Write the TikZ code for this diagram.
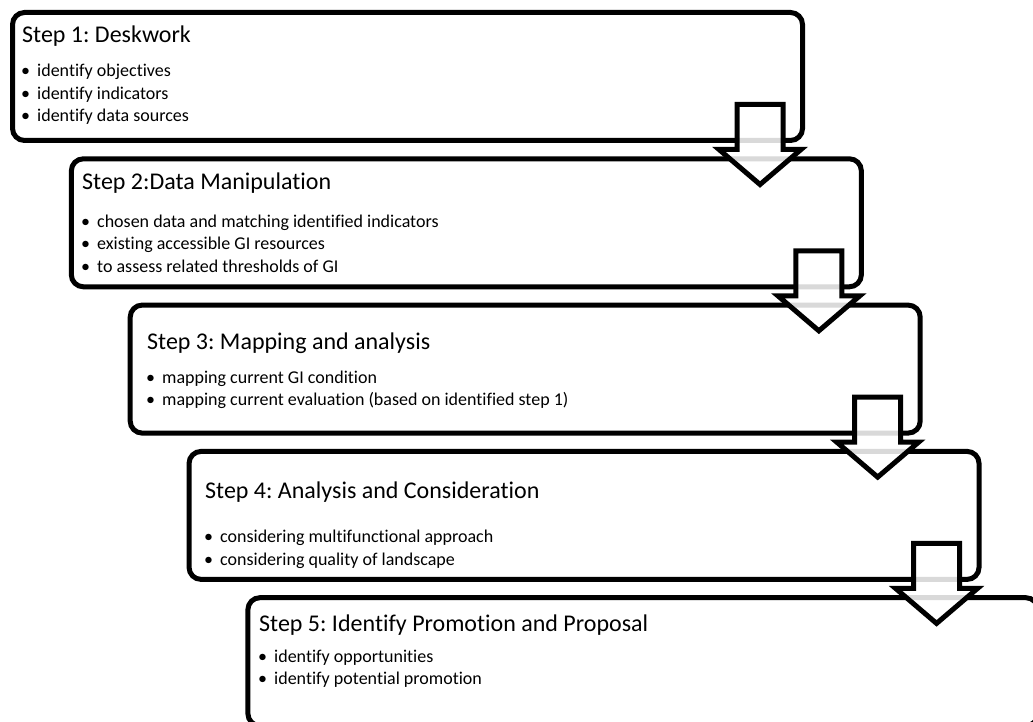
\documentclass[tikz,border=0pt]{standalone}
\usepackage{fontspec}
\setmainfont{Carlito}[Ligatures={NoCommon}]
\frenchspacing
\tikzset{
 stepbox/.style={draw=black, line width=5pt, rounded corners=12pt, minimum width=790pt, minimum height=128pt, anchor=north west, inner sep=0pt, outer sep=0pt},
 titletext/.style={anchor=base west, inner sep=0pt, font=\fontsize{24}{29}\selectfont},
 itemtext/.style={anchor=base west, inner sep=0pt, font=\fontsize{18}{22}\selectfont},
 blockarrow/.style={draw=black, line width=5pt, line join=miter, fill=white, fill opacity=0.85}
}
\newcommand{\stepdown}[1]{%
 \begin{scope}[shift={(#1.south east)}]
  \draw[blockarrow] (-65.5,-36) -- (-19.5,-36) -- (-19.5,9) -- (-1.5,9) -- (-42.5,44) -- (-83.5,9) -- (-65.5,9) -- cycle;
 \end{scope}}
\newcommand{\bul}[1]{\makebox[16pt][l]{•}#1}
\begin{document}
\begin{tikzpicture}[x=1pt,y=-1pt]
\useasboundingbox (0,0) rectangle (1033,722);
\clip (0,0) rectangle (1033,722);
% boxes
\node[stepbox] (b1) at (12.5,12.5) {};
\node[stepbox] (b2) at (71.35,158.8) {};
\node[stepbox] (b3) at (130.2,305.1) {};
\node[stepbox] (b4) at (189.05,451.4) {};
\node[stepbox] (b5) at (247.9,597.7) {};
% texts box 1
\node[titletext] (t1) at (22,43) {Step 1: Deskwork};
\node[itemtext] (t1a) at (21,77) {\bul{identify objectives}};
\node[itemtext] (t1b) at (21,99.5) {\bul{identify indicators}};
\node[itemtext] (t1c) at (21,122) {\bul{identify data sources}};
% box 2
\node[titletext] (t2) at (82,190) {Step 2:Data Manipulation};
\node[itemtext] (t2a) at (81,227) {\bul{chosen data and matching identified indicators}};
\node[itemtext] (t2b) at (81,249.5) {\bul{existing accessible GI resources}};
\node[itemtext] (t2c) at (81,272) {\bul{to assess related thresholds of GI}};
% box 3
\node[titletext] (t3) at (147,349) {Step 3: Mapping and analysis};
\node[itemtext] (t3a) at (146,383) {\bul{mapping current GI condition}};
\node[itemtext] (t3b) at (146,405) {\bul{mapping current evaluation (based on identified step 1)}};
% box 4
\node[titletext] (t4) at (205,498) {Step 4: Analysis and Consideration};
\node[itemtext] (t4a) at (204,542) {\bul{considering multifunctional approach}};
\node[itemtext] (t4b) at (204,565) {\bul{considering quality of landscape}};
% box 5
\node[titletext] (t5) at (259,631) {Step 5: Identify Promotion and Proposal};
\node[itemtext] (t5a) at (258,662) {\bul{identify opportunities}};
\node[itemtext] (t5b) at (258,684) {\bul{identify potential promotion}};
% arrows
\stepdown{b1}
\stepdown{b2}
\stepdown{b3}
\stepdown{b4}
\end{tikzpicture}
\end{document}
